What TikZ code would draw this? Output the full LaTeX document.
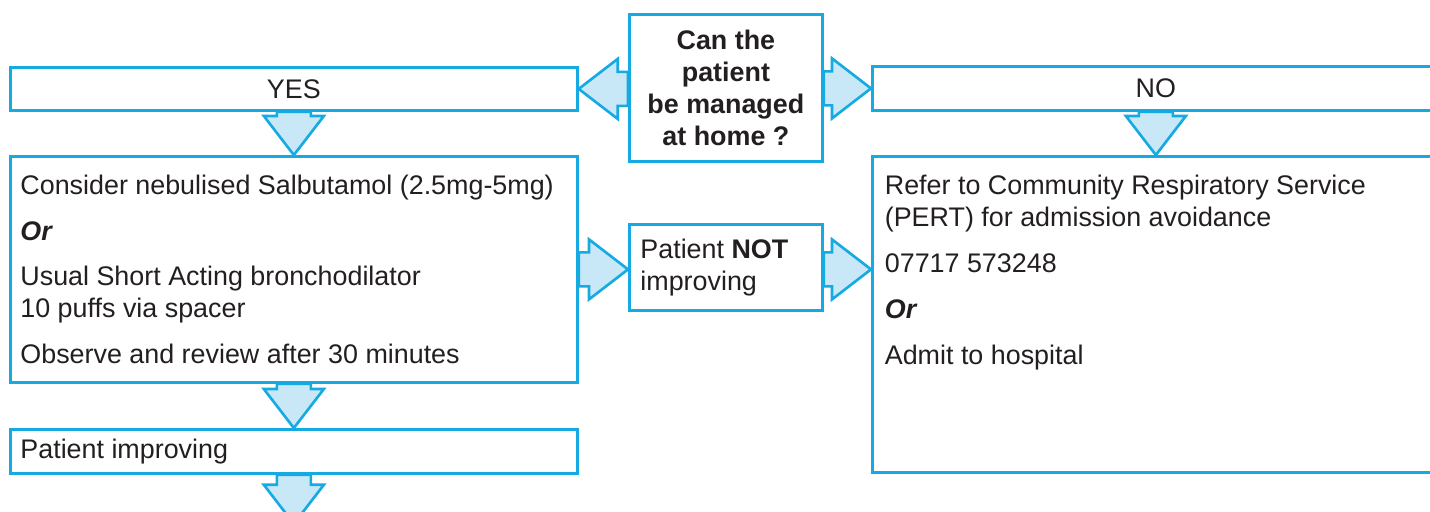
\documentclass[tikz,border=0pt]{standalone}
\usepackage{fontspec}
\setmainfont{Liberation Sans}
\usetikzlibrary{calc}
\definecolor{flowblue}{RGB}{22,170,226}
\definecolor{arrowfill}{RGB}{200,232,248}
\definecolor{inkgrey}{RGB}{35,31,32}
\begin{document}
\begin{tikzpicture}[x=0.02cm, y=-0.02cm,
  font=\fontsize{15.3}{18.2}\selectfont, text=inkgrey,
  box/.style={draw=flowblue, line width=1.6pt, rectangle, anchor=north west, inner sep=0pt},
  widebox/.style={box, minimum width=11.34cm},
  leftbox/.style={align=flush left, inner xsep=0.2cm, text width=10.94cm},
  blockarrow/.style={fill=arrowfill, draw=flowblue, line width=1.5pt, line join=miter,
    to path={let \p1=(\tikztostart), \p2=(\tikztotarget), \n1={atan2(\y2-\y1,\x2-\x1)} in
      ($(\p1)+({\n1+90}:0.34cm)$)
      -- ($(\p2)+({\n1+180}:0.78cm)+({\n1+90}:0.34cm)$)
      -- ($(\p2)+({\n1+180}:0.78cm)+({\n1+90}:0.6cm)$)
      -- (\p2)
      -- ($(\p2)+({\n1+180}:0.78cm)+({\n1-90}:0.6cm)$)
      -- ($(\p2)+({\n1+180}:0.78cm)+({\n1-90}:0.34cm)$)
      -- ($(\p1)+({\n1-90}:0.34cm)$) -- cycle}}]

\useasboundingbox (0,0) rectangle (1430,511);
\clip (0,0) rectangle (1430,511);

% question in the middle
\node (q) at (628,13) [box, minimum width=3.86cm, minimum height=2.94cm, align=center, font=\fontsize{15.3}{18.2}\selectfont\bfseries]{Can the\\patient\\be managed\\at home ?};

% left column
\node (yes) at (9,66) [widebox, minimum height=0.86cm]{YES};
\node (cons) at (9,155) [widebox, leftbox, minimum height=4.52cm]{Consider nebulised Salbutamol (2.5mg-5mg)\\[0.28cm]
  \textbf{\textit{Or}}\\[0.28cm]
  Usual Short Acting bronchodilator\\
  10 puffs via spacer\\[0.28cm]
  Observe and review after 30 minutes};
\node (imp) at (9,428) [widebox, leftbox, minimum height=0.88cm]{Patient improving};
\coordinate (next) at ([yshift=-0.98cm]imp.south);

% middle
\node (notimp) at (628,223) [box, minimum width=3.86cm, minimum height=1.72cm, align=flush left, inner xsep=0.22cm, text width=3.42cm]{Patient \textbf{NOT}\\improving};

% right column
\node (no) at (871,65) [widebox, minimum height=0.88cm]{NO};
\node (pert) at (871,155) [widebox, minimum height=6.32cm]{};
\node (perttext) at ([shift={(0.27cm,-0.4cm)}]pert.north west) [anchor=north west, inner sep=0pt, align=left]{Refer to Community Respiratory Service\\
  (PERT) for admission avoidance\\[0.28cm]
  07717 573248\\[0.28cm]
  \textbf{\textit{Or}}\\[0.28cm]
  Admit to hospital};

\draw[blockarrow] (q.west |- yes.east) to (yes.east);
\draw[blockarrow] (q.east |- no.west) to (no.west);
\draw[blockarrow] (yes.south) to (cons.north);
\draw[blockarrow] (no.south) to (pert.north);
\draw[blockarrow] (cons.east) to (notimp.west |- cons.east);
\draw[blockarrow] (notimp.east |- cons.east) to (pert.west |- cons.east);
\draw[blockarrow] (cons.south) to (imp.north);
\draw[blockarrow] (imp.south) to (next);

\end{tikzpicture}
\end{document}
